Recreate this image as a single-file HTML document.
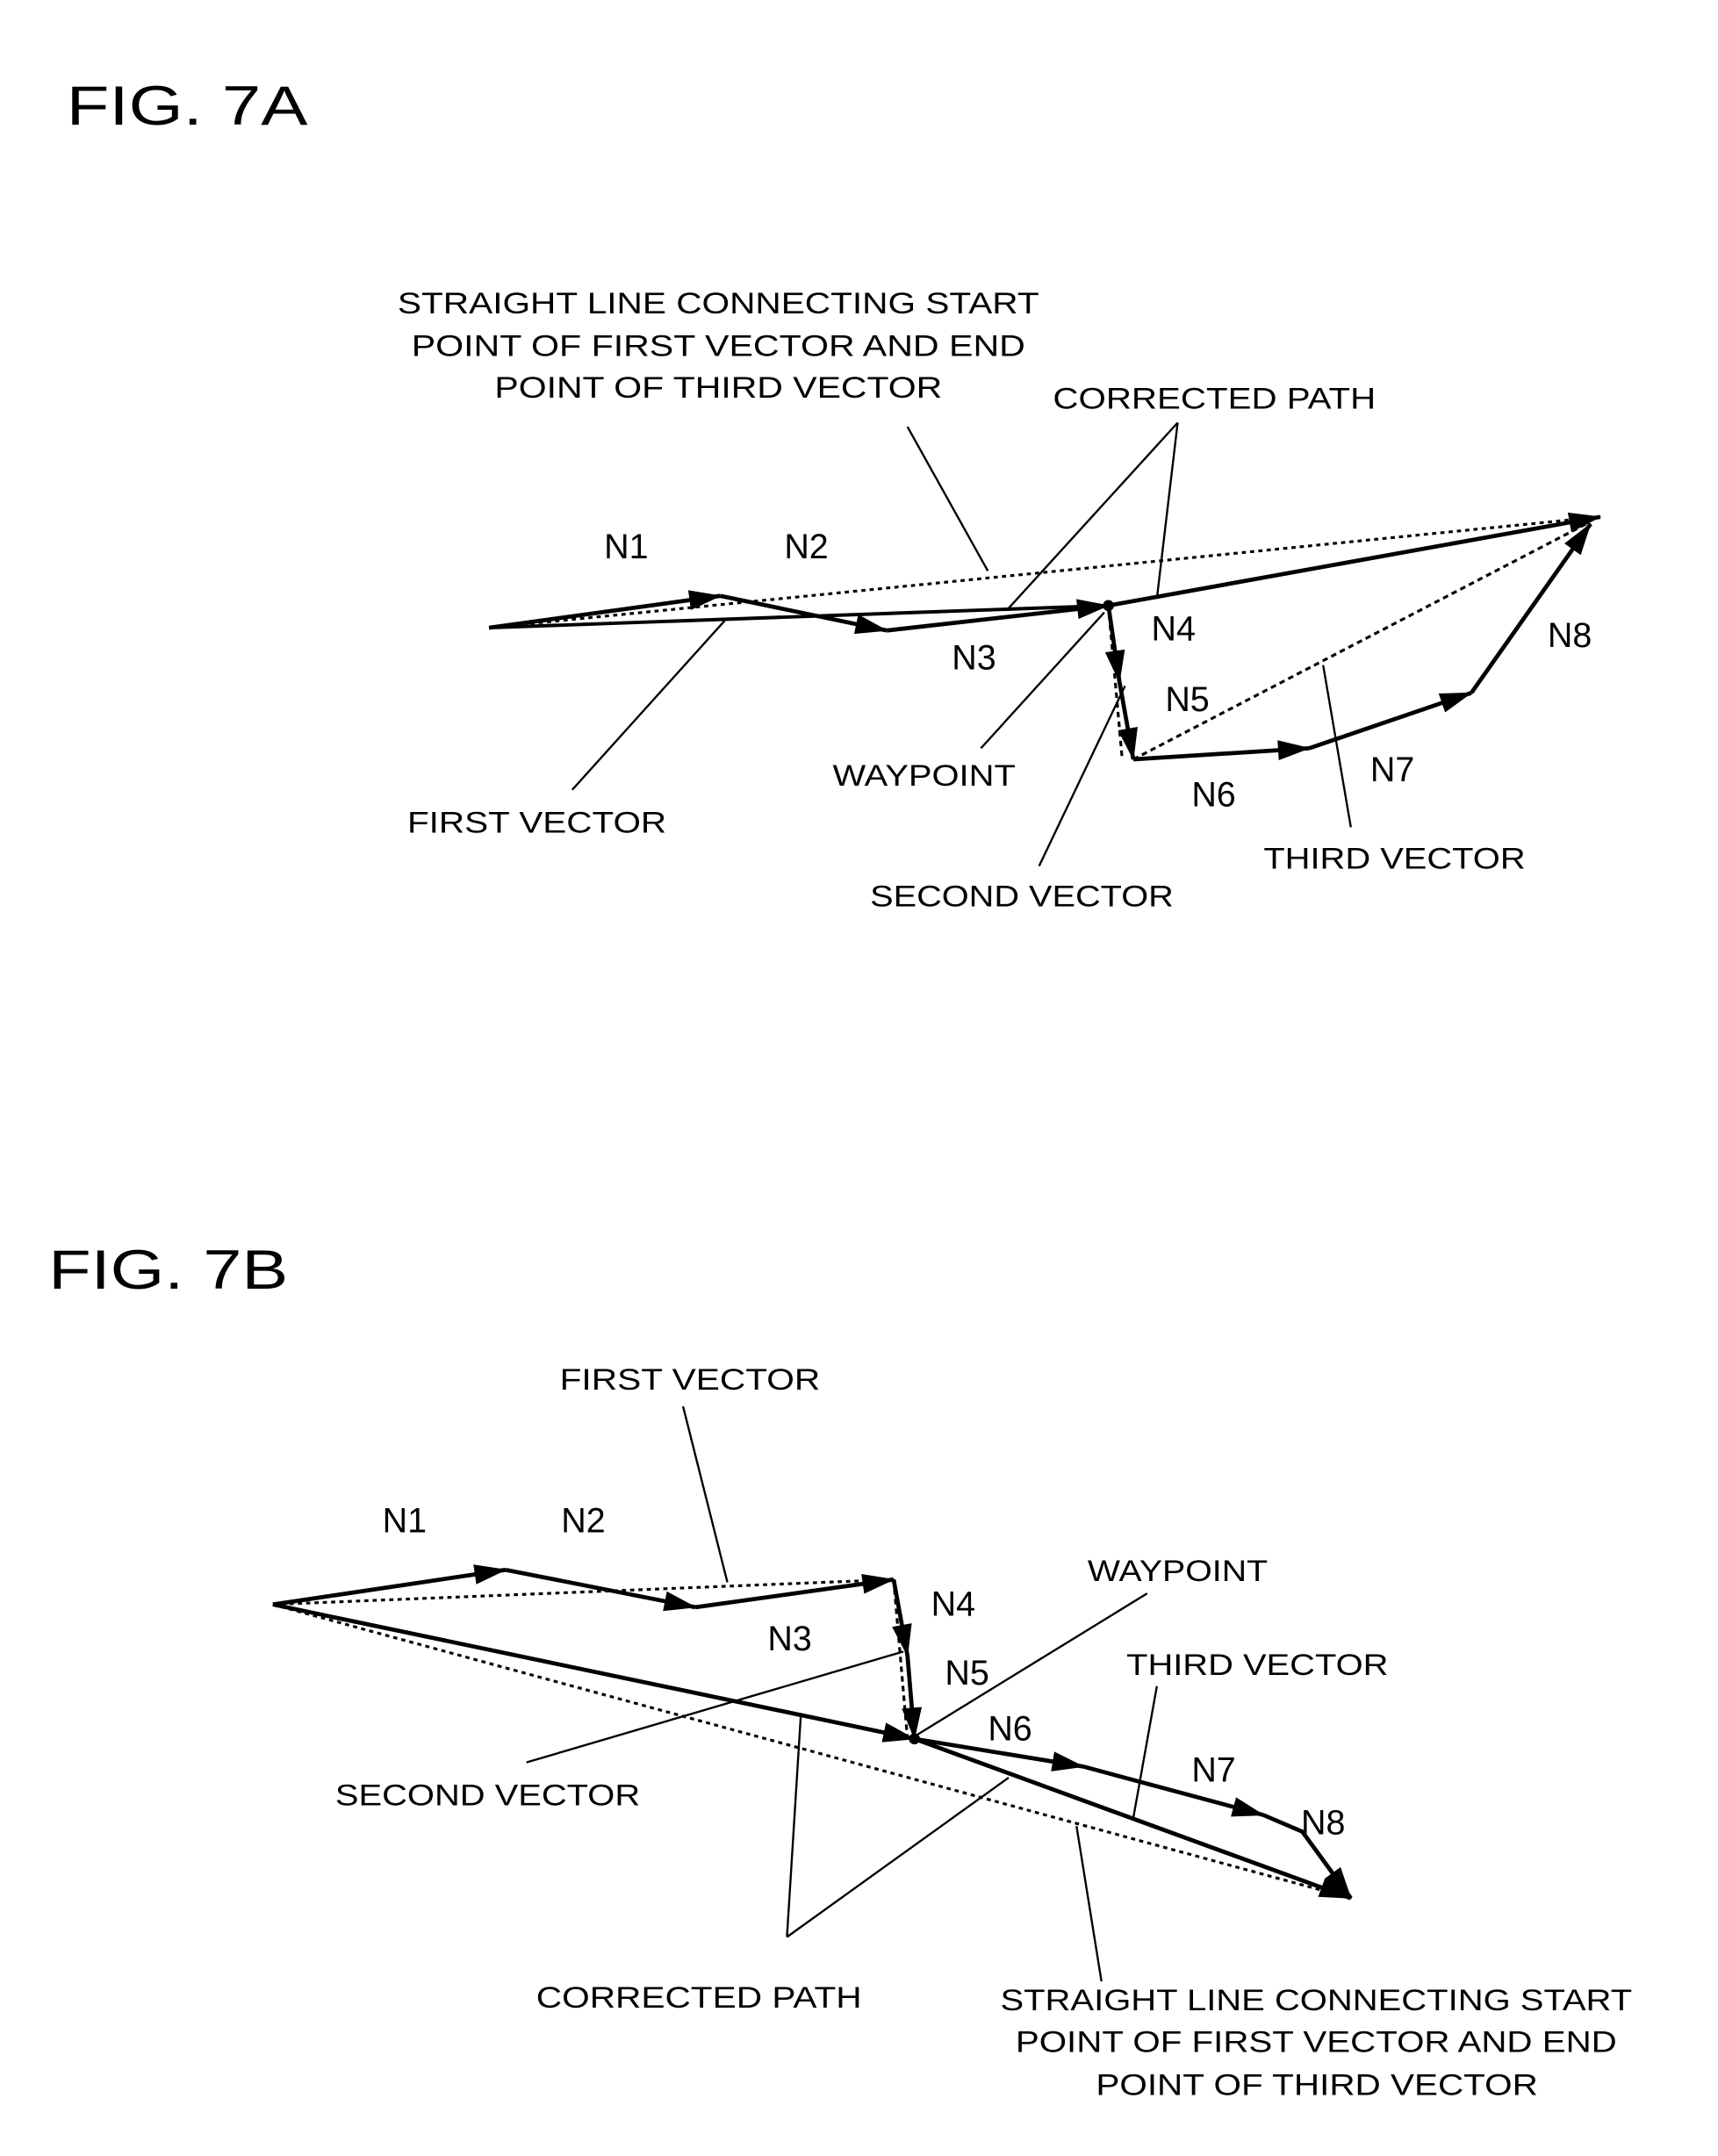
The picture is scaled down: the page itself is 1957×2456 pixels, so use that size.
<!DOCTYPE html>
<html><head><meta charset="utf-8"><style>html,body{margin:0;padding:0;background:#fff}svg{display:block}</style></head><body>
<svg width="1957" height="2456" viewBox="0 0 1240 1556" xmlns="http://www.w3.org/2000/svg" font-family="Liberation Sans, sans-serif">
<defs>
<marker id="a" viewBox="0 0 10 10" refX="9" refY="5" markerWidth="9" markerHeight="9" markerUnits="userSpaceOnUse" orient="auto" overflow="visible">
<path d="M-16,-3 L10,5 L-16,13 Z" fill="#000"/>
</marker>
</defs>
<rect width="1240" height="1556" fill="#fff"/>
<g fill="#000">
<text x="48" y="90" font-size="40" textLength="174" lengthAdjust="spacingAndGlyphs">FIG. 7A</text>
<text x="35" y="930" font-size="40" textLength="173" lengthAdjust="spacingAndGlyphs">FIG. 7B</text>
</g>
<g font-size="22" fill="#000" lengthAdjust="spacingAndGlyphs">
<text x="287" y="226" textLength="463" lengthAdjust="spacingAndGlyphs">STRAIGHT LINE CONNECTING START</text>
<text x="297" y="257" textLength="443" lengthAdjust="spacingAndGlyphs">POINT OF FIRST VECTOR AND END</text>
<text x="357" y="287" textLength="323" lengthAdjust="spacingAndGlyphs">POINT OF THIRD VECTOR</text>
<text x="760" y="295" textLength="233" lengthAdjust="spacingAndGlyphs">CORRECTED PATH</text>
<text x="294" y="601" textLength="187" lengthAdjust="spacingAndGlyphs">FIRST VECTOR</text>
<text x="601" y="567" textLength="132" lengthAdjust="spacingAndGlyphs">WAYPOINT</text>
<text x="628" y="654" textLength="219" lengthAdjust="spacingAndGlyphs">SECOND VECTOR</text>
<text x="912" y="627" textLength="189" lengthAdjust="spacingAndGlyphs">THIRD VECTOR</text>
<text x="404" y="1003" textLength="188" lengthAdjust="spacingAndGlyphs">FIRST VECTOR</text>
<text x="785" y="1141" textLength="130" lengthAdjust="spacingAndGlyphs">WAYPOINT</text>
<text x="813" y="1209" textLength="189" lengthAdjust="spacingAndGlyphs">THIRD VECTOR</text>
<text x="242" y="1303" textLength="220" lengthAdjust="spacingAndGlyphs">SECOND VECTOR</text>
<text x="387" y="1449" textLength="235" lengthAdjust="spacingAndGlyphs">CORRECTED PATH</text>
<text x="722" y="1451" textLength="456" lengthAdjust="spacingAndGlyphs">STRAIGHT LINE CONNECTING START</text>
<text x="733" y="1481" textLength="434" lengthAdjust="spacingAndGlyphs">POINT OF FIRST VECTOR AND END</text>
<text x="791" y="1512" textLength="319" lengthAdjust="spacingAndGlyphs">POINT OF THIRD VECTOR</text>
</g>
<g font-size="25" text-anchor="middle" fill="#000">
<text x="452" y="403">N1</text><text x="582" y="403">N2</text><text x="703" y="483">N3</text>
<text x="847" y="462">N4</text><text x="857" y="513">N5</text><text x="876" y="582">N6</text>
<text x="1005" y="564">N7</text><text x="1133" y="467">N8</text>
<text x="292" y="1106">N1</text><text x="421" y="1106">N2</text><text x="570" y="1191">N3</text>
<text x="688" y="1166">N4</text><text x="698" y="1216">N5</text><text x="729" y="1256">N6</text>
<text x="876" y="1286">N7</text><text x="955" y="1324">N8</text>
</g>
<!-- 7A -->
<g stroke="#000" fill="none">
<path d="M353,453 L520,430" stroke-width="2" stroke-dasharray="3,3"/>
<path d="M353,453 L1155,373" stroke-width="2" stroke-dasharray="3,3"/>
<path d="M800,437 L810,548" stroke-width="2" stroke-dasharray="4,3"/>
<path d="M818,548 L1145,378" stroke-width="2" stroke-dasharray="4,3"/>
<path d="M353,453 L800,437" stroke-width="2.5"/>
<path d="M800,437 L1155,373" stroke-width="3" marker-end="url(#a)"/>
<g stroke-width="3" marker-end="url(#a)">
<path d="M353,453 L520,430"/><path d="M520,430 L640,455"/><path d="M640,455 L800,437"/>
<path d="M800,437 L808,492"/><path d="M808,492 L818,548"/>
<path d="M818,548 L945,540"/><path d="M945,540 L1062,500"/><path d="M1062,500 L1148,378"/>
</g>
<g stroke-width="1.5">
<path d="M655,308 L713,412"/><path d="M850,305 L727,440"/><path d="M850,305 L835,432"/>
<path d="M413,570 L523,448"/><path d="M708,540 L797,442"/><path d="M750,625 L812,495"/><path d="M975,597 L955,480"/>
</g>
</g>
<circle cx="800" cy="437" r="4" fill="#000"/>
<!-- 7B -->
<g stroke="#000" fill="none">
<path d="M197,1158 L645,1140" stroke-width="2" stroke-dasharray="3,3"/>
<path d="M197,1158 L975,1370" stroke-width="2" stroke-dasharray="3,3"/>
<path d="M645,1140 L655,1255" stroke-width="2" stroke-dasharray="4,3"/>
<path d="M197,1158 L660,1255" stroke-width="3" marker-end="url(#a)"/>
<path d="M660,1255 L975,1370" stroke-width="3" marker-end="url(#a)"/>
<g stroke-width="3" marker-end="url(#a)">
<path d="M197,1158 L365,1133"/><path d="M365,1133 L502,1160"/><path d="M502,1160 L645,1140"/>
<path d="M645,1140 L655,1195"/><path d="M655,1195 L660,1255"/>
<path d="M660,1255 L782,1275"/><path d="M782,1275 L912,1310"/><path d="M912,1310 L940,1322 L975,1370"/>
</g>
<g stroke-width="1.5">
<path d="M493,1015 L525,1142"/><path d="M828,1150 L662,1252"/><path d="M380,1272 L652,1192"/>
<path d="M835,1217 L818,1312"/><path d="M568,1398 L578,1238"/><path d="M568,1398 L728,1283"/><path d="M795,1430 L777,1318"/>
</g>
</g>
<circle cx="660" cy="1255" r="4" fill="#000"/>
</svg>
</body></html>
